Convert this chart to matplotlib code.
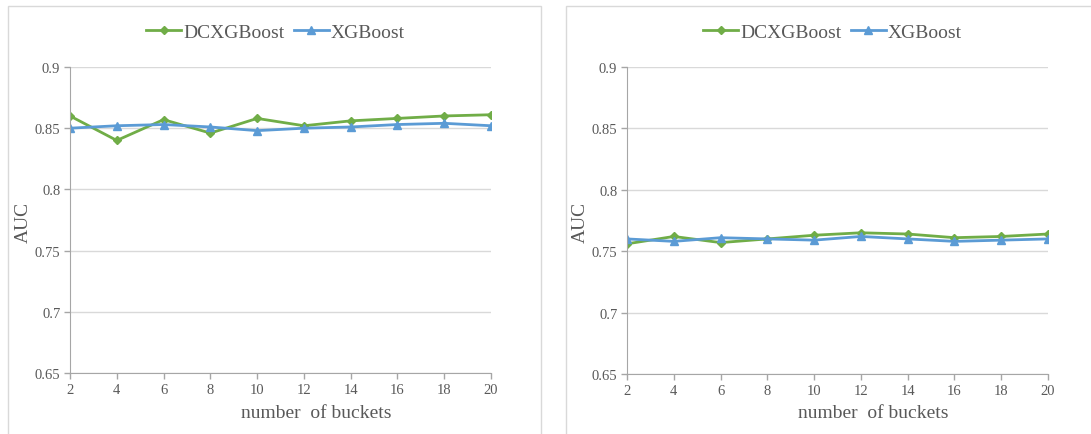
import matplotlib.pyplot as plt
from matplotlib.patches import Rectangle

buckets = [2, 4, 6, 8, 10, 12, 14, 16, 18, 20]

# left panel
dcx_left = [0.860, 0.840, 0.857, 0.846, 0.858, 0.852, 0.856, 0.858, 0.860, 0.861]
xgb_left = [0.850, 0.852, 0.853, 0.851, 0.848, 0.850, 0.851, 0.853, 0.854, 0.852]

# right panel
dcx_right = [0.756, 0.762, 0.757, 0.760, 0.763, 0.765, 0.764, 0.761, 0.762, 0.764]
xgb_right = [0.760, 0.758, 0.761, 0.760, 0.759, 0.762, 0.760, 0.758, 0.759, 0.760]

y_ticks = [0.65, 0.7, 0.75, 0.8, 0.85, 0.9]
y_labels = ['0.65', '0.7', '0.75', '0.8', '0.85', '0.9']

green = '#70AD47'
blue = '#5B9BD5'
W, H = 1091, 435

plt.rcParams['font.family'] = ['Liberation Serif', 'DejaVu Serif']
fig = plt.figure(figsize=(W / 100, H / 100), dpi=100)

panels = [
    # axes px box (left, right, top, bottom), frame px box (x0, x1, y0)
    ((70, 491, 68, 374), (8, 541, 7), dcx_left, xgb_left),
    ((627, 1048, 68, 375), (566, 1100, 7), dcx_right, xgb_right),
]

for (l, r, t, b), (fx0, fx1, fy0), dcx, xgb in panels:
    fig.patches.append(Rectangle((fx0 / W, -0.01), (fx1 - fx0) / W, 1.01 - fy0 / H,
                                 transform=fig.transFigure, fill=False,
                                 edgecolor='#D9D9D9', linewidth=1.0))
    ax = fig.add_axes([l / W, 1 - b / H, (r - l) / W, (b - t) / H])
    ax.plot(buckets, dcx, color=green, linewidth=2, marker='D', markersize=4.5,
            label='DCXGBoost')
    ax.plot(buckets, xgb, color=blue, linewidth=2, marker='^', markersize=6,
            label='XGBoost')
    ax.set_xlim(2, 20)
    ax.set_ylim(0.65, 0.9)
    ax.set_xticks(buckets)
    ax.set_yticks(y_ticks)
    ax.set_yticklabels(y_labels)
    ax.grid(axis='y', color='#D9D9D9', linewidth=1)
    ax.set_axisbelow(True)
    for s in ['top', 'right']:
        ax.spines[s].set_visible(False)
    for s in ['left', 'bottom']:
        ax.spines[s].set_color('#A6A6A6')
    ax.tick_params(colors='#A6A6A6', labelcolor='#595959', labelsize=10.5,
                   length=4, width=1, pad=3)
    cx = (l + r) / 2
    fig.text((l + 246) / W, 1 - 414 / H, 'number  of buckets', ha='center',
             va='center', fontsize=14, color='#595959')
    fig.text((l - 47) / W, 1 - 222 / H, 'AUC', rotation=90, ha='center',
             va='center', fontsize=14, color='#595959')
    fig.legend(handles=ax.get_lines(), loc='center',
               bbox_to_anchor=((cx - 5) / W, 1 - 33 / H), ncol=2, frameon=False,
               fontsize=14, handlelength=1.8, columnspacing=0.5,
               handletextpad=0.1, labelcolor='#595959')

fig.savefig('out.png', dpi=100)
